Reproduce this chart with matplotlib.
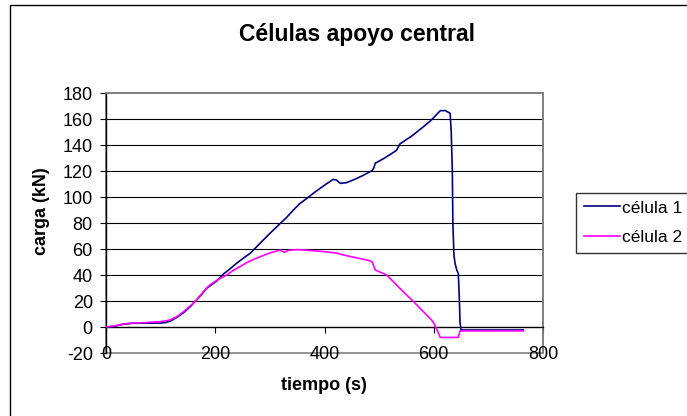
import matplotlib
matplotlib.use("Agg")
import matplotlib.pyplot as plt
from matplotlib.patches import Rectangle

plt.rcParams['font.family'] = ['Liberation Sans', 'DejaVu Sans']
plt.rcParams['axes.unicode_minus'] = False

# ---- data ----
t1 = [0, 15, 30, 45, 70, 100, 110, 120, 130, 142, 155, 166, 175, 184, 195, 203, 215, 225,
      239, 250, 264, 282, 300, 319, 330, 343, 355, 368, 380, 392, 405, 416, 422, 429, 440,
      455, 470, 487, 490, 493, 510, 525, 532, 538, 560, 581, 595, 612, 621, 630, 632, 634,
      635, 637, 639, 642, 645, 647, 648, 650, 700, 764]
v1 = [0, 0.5, 2, 2.8, 3, 3, 3.5, 5, 7.5, 11, 16, 21, 25, 29.7, 33, 35.5, 40.8, 44,
      49, 52.5, 56.7, 64.4, 72, 79.7, 84, 90, 95, 99, 103, 106.7, 110.5, 113.6, 113, 110.5, 111,
      113.5, 116.5, 120.3, 122, 126, 130, 134, 136, 140.8, 147, 154, 159, 166.4, 166.5, 164.4, 150, 120,
      80, 55, 49, 44, 41, 20, 4, -2.3, -2.3, -2.3]

t2 = [0, 15, 32, 50, 68, 99, 110, 117, 130, 142, 155, 166, 178, 190, 205, 221, 233, 245,
      262, 282, 300, 319, 326, 335, 350, 370, 398, 420, 435, 455, 478, 487, 493, 514, 538,
      563, 581, 596, 600, 606, 612, 645, 648, 700, 764]
v2 = [0, 0.8, 2.3, 3, 3.3, 4.1, 4.8, 5.4, 8, 11.8, 16.5, 20.8, 27, 32.3, 36.5, 40, 43.5, 46.4,
      50.5, 54, 57, 59.2, 57.5, 59, 59.5, 59, 58, 57, 55.4, 53.5, 51.5, 50.3, 43.8, 40, 29.7,
      19.5, 11.8, 5.4, 3, -2.3, -8, -8, -3, -3, -3]

series_names = ['célula 1', 'célula 2']
series_colors = ['#000080', '#FF00FF']
x_ticks = [0, 200, 400, 600, 800]
y_ticks = [-20, 0, 20, 40, 60, 80, 100, 120, 140, 160, 180]
title = 'Células apoyo central'
xlabel = 'tiempo (s)'
ylabel = 'carga (kN)'

W, H = 687, 416
fig = plt.figure(figsize=(W / 100, H / 100), dpi=100)

# outer chart border
fig.patches.append(Rectangle((10 / W, 0 - 0.01), 1.0, (H - 5) / H + 0.01,
                             transform=fig.transFigure, fill=False,
                             edgecolor='black', linewidth=1.0, clip_on=False))

ax = fig.add_axes([106 / W, (H - 353) / H, (543 - 106) / W, (353 - 93) / H])
ax.set_xlim(0, 800)
ax.set_ylim(-20, 180)

ax.plot(t1, v1, color=series_colors[0], lw=1.2, label=series_names[0], zorder=3)
ax.plot(t2, v2, color=series_colors[1], lw=1.2, label=series_names[1], zorder=3)

# frame
gray = '#808080'
ax.patch.set_edgecolor(gray)
ax.patch.set_linewidth(1.2)
for s in ['top', 'right']:
    ax.spines[s].set_color(gray)
    ax.spines[s].set_linewidth(1.2)
ax.spines['left'].set_color('black')
ax.spines['left'].set_linewidth(1.0)
ax.spines['bottom'].set_position(('data', 0))
ax.spines['bottom'].set_color('black')
ax.spines['bottom'].set_linewidth(1.0)

ax.set_yticks(y_ticks)
ax.set_xticks(x_ticks)
ax.tick_params(axis='y', direction='out', length=4.5, width=0.8, pad=5, labelsize=13)
ax.tick_params(axis='x', direction='out', length=4, width=0.8, labelbottom=False)

ax.yaxis.grid(True, color='black', linewidth=0.8)
ax.set_axisbelow(True)
for gl, tv in zip(ax.yaxis.get_gridlines(), y_ticks):
    if tv in (-20, 0, 180):
        gl.set_visible(False)

for xv in x_ticks:
    ax.text(xv, -21, str(xv), ha='center', va='center', fontsize=13, clip_on=False)

fig.text(357 / W, 1 - 35 / H, title, ha='center', va='center', fontsize=16.5, fontweight='bold')
fig.text(324 / W, 1 - 385 / H, xlabel, ha='center', va='center', fontsize=13, fontweight='bold')
fig.text(42 / W, 1 - 211 / H, ylabel, ha='center', va='center', fontsize=13,
         fontweight='bold', rotation=90)

leg = fig.legend(loc='upper left', bbox_to_anchor=(576 / W, 1 - 193 / H, 0.3, 0.001),
                 mode='expand', fontsize=12.5, frameon=True, fancybox=False,
                 handlelength=2.1, handletextpad=0.1, labelspacing=0.85,
                 borderpad=0.45, borderaxespad=0)
leg.get_frame().set_edgecolor('black')
leg.get_frame().set_linewidth(1.0)

fig.savefig('out.png', dpi=100)
